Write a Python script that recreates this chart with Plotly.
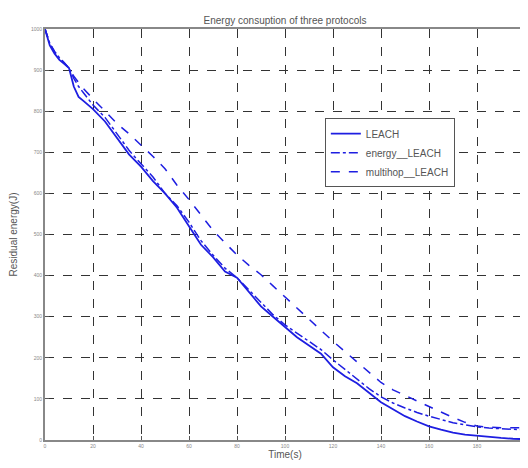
import plotly.graph_objects as go

t = [0, 2, 4, 6, 8, 10, 12, 14, 16, 20, 25, 30, 35, 40, 45, 50, 55, 60, 65, 70, 75, 80, 85, 90, 95,
     100, 105, 110, 115, 120, 125, 130, 135, 140, 145, 150, 155, 160, 165, 170, 175, 180, 185, 190, 195, 200]

leach = [1000, 960, 940, 925, 915, 905, 860, 835, 825, 805, 775, 735, 695, 665, 630, 600, 565, 520, 475, 445,
         410, 395, 360, 325, 300, 275, 250, 230, 210, 177, 155, 138, 115, 92, 75, 58, 45, 33, 25, 18, 13, 10, 7, 5, 3, 2]

energy_leach = [1000, 965, 945, 930, 918, 905, 880, 860, 845, 815, 785, 745, 705, 672, 640, 600, 570, 530, 485, 450,
                418, 395, 365, 335, 305, 280, 260, 240, 220, 195, 172, 148, 125, 105, 90, 78, 67, 58, 50, 42, 37, 32, 29, 27, 26, 25]

multihop_leach = [1000, 965, 945, 930, 918, 905, 885, 870, 855, 830, 800, 770, 745, 718, 690, 660, 620, 585, 548, 510,
                  480, 450, 425, 402, 375, 348, 320, 292, 265, 240, 215, 190, 163, 140, 122, 108, 95, 82, 68, 55, 43, 34, 31, 30, 30, 30]

x_ticks = [0, 20, 40, 60, 80, 100, 120, 140, 160, 180, 200]
y_ticks = [0, 100, 200, 300, 400, 500, 600, 700, 800, 900, 1000]

blue = "rgb(30,30,225)"
fig = go.Figure()
fig.add_trace(go.Scatter(x=t, y=leach, mode="lines", name="LEACH",
                         line=dict(color=blue, width=1.8)))
fig.add_trace(go.Scatter(x=t, y=energy_leach, mode="lines", name="energy__LEACH",
                         line=dict(color=blue, width=1.5, dash="dashdot")))
fig.add_trace(go.Scatter(x=t, y=multihop_leach, mode="lines", name="multihop__LEACH",
                         line=dict(color=blue, width=1.5, dash="dash")))

axis_common = dict(
    showgrid=True, gridcolor="#333333", griddash="dash", gridwidth=1,
    showline=True, linecolor="#888888", linewidth=2, mirror=True,
    ticks="inside", ticklen=4, tickcolor="#555555",
    tickfont=dict(family="Liberation Sans", size=5, color="#888888"),
    zeroline=False,
)

fig.update_layout(
    width=520, height=460,
    margin=dict(l=37, r=1, t=21, b=28),
    paper_bgcolor="white", plot_bgcolor="white",
    font=dict(family="Liberation Sans", color="#555555"),
    title=dict(text="Energy consuption of three protocols", x=0.5, xref="paper", xanchor="center",
               y=1, yref="paper", yanchor="bottom", pad=dict(b=5),
               font=dict(size=10, color="#555555")),
    xaxis=dict(range=[0, 200], tickvals=x_ticks,
               title=dict(text="Time(s)", font=dict(size=10, color="#555555"), standoff=2),
               **axis_common),
    yaxis=dict(range=[0, 1000], tickvals=y_ticks,
               title=dict(text="Residual energy(J)", font=dict(size=10, color="#555555"), standoff=12),
               **axis_common),
    legend=dict(x=0.583, y=0.783, xanchor="left", yanchor="top",
                bgcolor="white", bordercolor="#555555", borderwidth=1,
                font=dict(size=10, color="#555555"), tracegroupgap=0,
                itemwidth=30),
    showlegend=True,
)

fig.write_html("out.html")
